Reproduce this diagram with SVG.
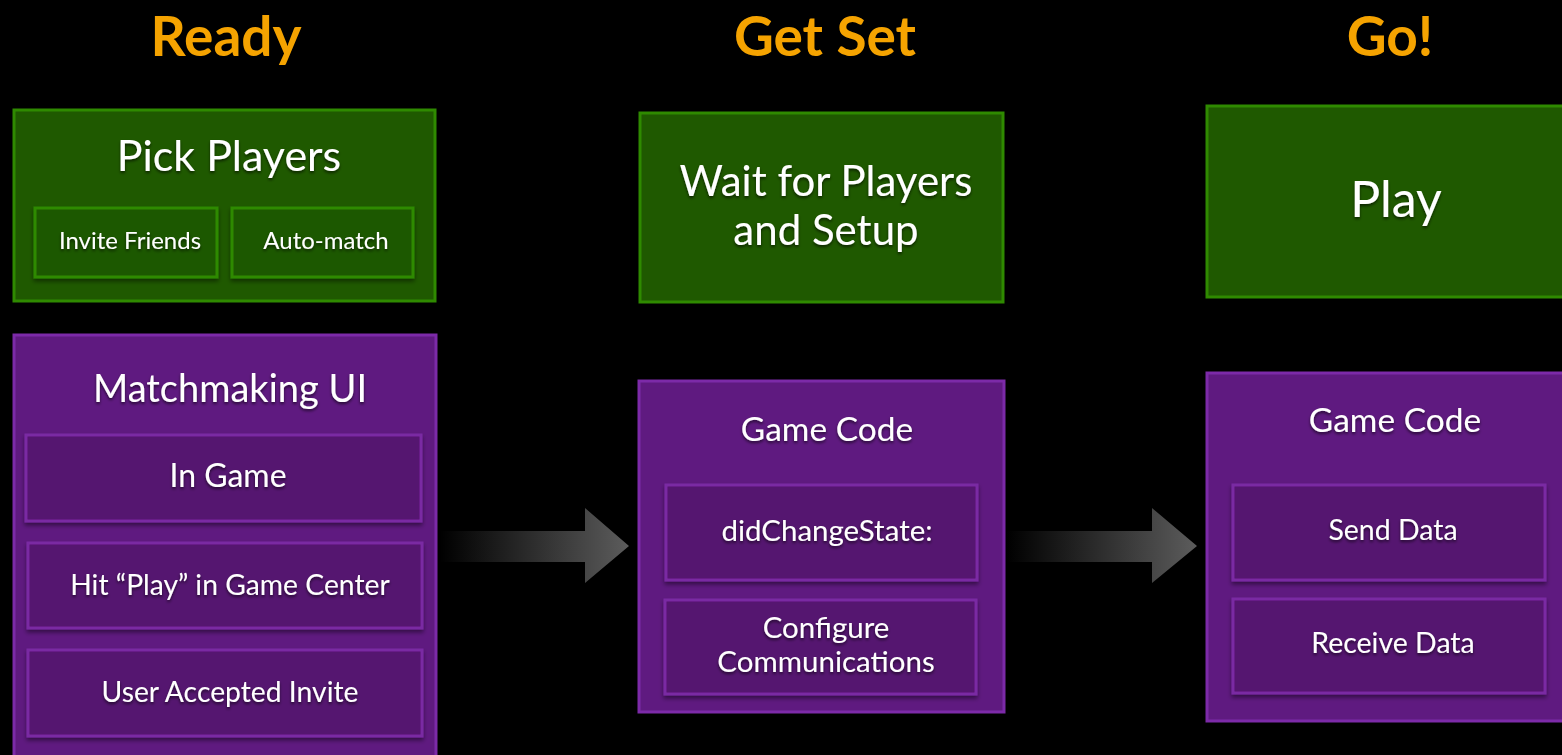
<svg xmlns="http://www.w3.org/2000/svg" width="1562" height="755" viewBox="0 0 1562 755">
<defs>
<style>
.title{font-family:"Lato","Open Sans",sans-serif;font-weight:bold;fill:#f5a300;text-anchor:middle;font-size:55px}
.t{font-family:"Lato","Open Sans",sans-serif;fill:#ffffff;text-anchor:middle;filter:url(#ts)}
.g{fill:#1f5900;stroke:#2f8a00;stroke-width:3}
.p{fill:#5f1a80;stroke:#7c2aa8;stroke-width:3}
.pi{fill:#54146f;stroke:#7a2ba3;stroke-width:3;filter:url(#bs)}
.gi{fill:#1f5900;stroke:#2f8a00;stroke-width:3;filter:url(#bs)}
</style>
<filter id="ts" x="-10%" y="-20%" width="120%" height="150%">
<feDropShadow dx="0" dy="2" stdDeviation="1.5" flood-color="#000" flood-opacity="0.6"/>
</filter>
<filter id="bs" x="-5%" y="-10%" width="110%" height="130%">
<feDropShadow dx="0" dy="3" stdDeviation="2" flood-color="#000" flood-opacity="0.45"/>
</filter>
<linearGradient id="ag1" gradientUnits="userSpaceOnUse" x1="440" y1="0" x2="629" y2="0">
<stop offset="0" stop-color="#000"/><stop offset="1" stop-color="#5c5c5c"/>
</linearGradient>
<linearGradient id="ag2" gradientUnits="userSpaceOnUse" x1="1007" y1="0" x2="1197" y2="0">
<stop offset="0" stop-color="#000"/><stop offset="1" stop-color="#5c5c5c"/>
</linearGradient>
</defs>
<rect width="1562" height="755" fill="#000"/>
<g id="titles">
<text class="title" x="226" y="56">Ready</text>
<text class="title" x="825" y="56">Get Set</text>
<text class="title" x="1390" y="56">Go!</text>
</g>
<g id="connectors">
<path d="M438,531 H585 V508 L629,546 L585,583 V562 H438 Z" fill="url(#ag1)"/>
<path d="M1006,531 H1152 V508 L1197,546 L1152,583 V562 H1006 Z" fill="url(#ag2)"/>
</g>
<g id="pick-players">
<rect class="g" x="14" y="110" width="421" height="191"/>
<text class="t" x="229" y="171" font-size="43">Pick Players</text>
<g id="invite-friends">
<rect class="gi" x="35" y="208" width="182" height="69"/>
<text class="t" x="130" y="249" font-size="24">Invite Friends</text>
</g>
<g id="auto-match">
<rect class="gi" x="232" y="208" width="181" height="69"/>
<text class="t" x="326" y="249" font-size="24">Auto-match</text>
</g>
</g>
<g id="matchmaking-ui">
<rect class="p" x="14" y="335" width="422" height="430"/>
<text class="t" x="230" y="402" font-size="38">Matchmaking UI</text>
<g id="in-game">
<rect class="pi" x="26" y="435" width="395" height="86"/>
<text class="t" x="228" y="487" font-size="32">In Game</text>
</g>
<g id="hit-play">
<rect class="pi" x="28" y="543" width="394" height="85"/>
<text class="t" x="230" y="595" font-size="28.3">Hit “Play” in Game Center</text>
</g>
<g id="user-accepted">
<rect class="pi" x="28" y="650" width="394" height="86"/>
<text class="t" x="230" y="702" font-size="28.3">User Accepted Invite</text>
</g>
</g>
<g id="wait-for-players">
<rect class="g" x="640" y="113" width="363" height="189"/>
<text class="t" x="826" y="196" font-size="42">Wait for Players</text>
<text class="t" x="826" y="245" font-size="42">and Setup</text>
</g>
<g id="game-code-1">
<rect class="p" x="639" y="381" width="365" height="331"/>
<text class="t" x="827" y="441" font-size="33.5">Game Code</text>
<g id="did-change-state">
<rect class="pi" x="666" y="485" width="311" height="95"/>
<text class="t" x="827" y="541" font-size="29.5">didChangeState:</text>
</g>
<g id="configure">
<rect class="pi" x="665" y="600" width="311" height="94"/>
<text class="t" x="826" y="638" font-size="29.5">Configure</text>
<text class="t" x="826" y="672" font-size="29.5">Communications</text>
</g>
</g>
<g id="play">
<rect class="g" x="1207" y="106" width="370" height="191"/>
<text class="t" x="1396" y="217" font-size="50">Play</text>
</g>
<g id="game-code-2">
<rect class="p" x="1207" y="373" width="370" height="348"/>
<text class="t" x="1395" y="432" font-size="33.5">Game Code</text>
<g id="send-data">
<rect class="pi" x="1233" y="485" width="312" height="95"/>
<text class="t" x="1393" y="540" font-size="28.5">Send Data</text>
</g>
<g id="receive-data">
<rect class="pi" x="1233" y="599" width="312" height="94"/>
<text class="t" x="1393" y="653" font-size="28.5">Receive Data</text>
</g>
</g>
</svg>
